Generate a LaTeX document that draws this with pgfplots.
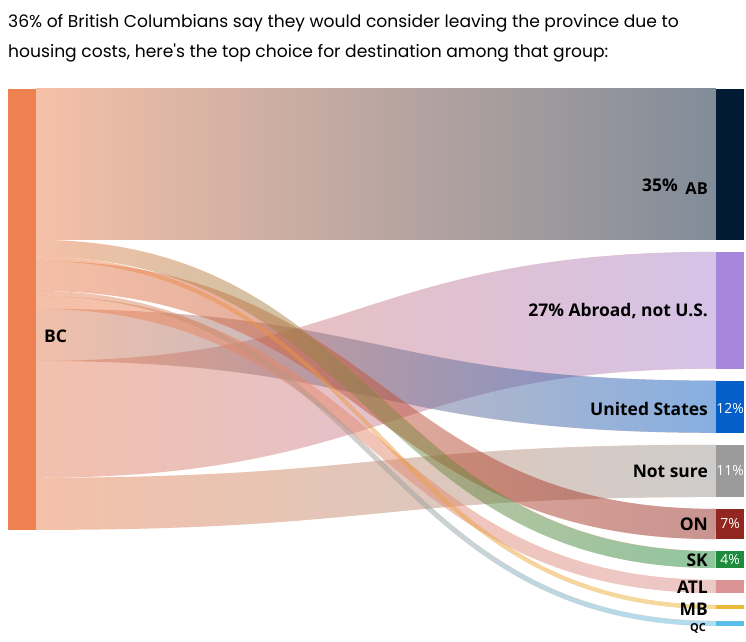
\documentclass[border=0pt]{standalone}
\usepackage{pgfplots}
\pgfplotsset{compat=1.18}
\usetikzlibrary{fadings}
\usepackage{fontspec}
\setmainfont{Open Sans}
\newfontfamily\titlefont{Poppins}
\definecolor{bcor}{RGB}{237,130,80}
\definecolor{cAB}{RGB}{3,26,53}
\definecolor{cAbroad}{RGB}{166,134,219}
\definecolor{cUS}{RGB}{5,95,200}
\definecolor{cNS}{RGB}{155,155,155}
\definecolor{cON}{RGB}{146,38,32}
\definecolor{cSK}{RGB}{30,140,60}
\definecolor{cATL}{RGB}{218,146,146}
\definecolor{cMB}{RGB}{235,185,55}
\definecolor{cQC}{RGB}{90,190,230}
% shares (%) of those considering leaving BC
\def\sc{4.31}
\pgfmathsetmacro\hAB{35*\sc}
\pgfmathsetmacro\hAbroad{27.1*\sc}
\pgfmathsetmacro\hUS{12.1*\sc}
\pgfmathsetmacro\hNS{12.1*\sc}
\pgfmathsetmacro\hON{7*\sc}
\pgfmathsetmacro\hSK{3.9*\sc}
\pgfmathsetmacro\hATL{3*\sc}
\pgfmathsetmacro\hMB{0.95*\sc}
\pgfmathsetmacro\hQC{1.15*\sc}
% right nodes (stacked with gaps)
\def\gap{12}
\def\rAB{89}
\pgfmathsetmacro\rAbroad{\rAB+\hAB+\gap}
\pgfmathsetmacro\rUS{\rAbroad+\hAbroad+\gap}
\pgfmathsetmacro\rNS{\rUS+\hUS+\gap}
\pgfmathsetmacro\rON{\rNS+\hNS+\gap}
\pgfmathsetmacro\rSK{\rON+\hON+\gap}
\pgfmathsetmacro\rATL{\rSK+\hSK+\gap}
\pgfmathsetmacro\rMB{\rATL+\hATL+\gap}
\pgfmathsetmacro\rQC{\rMB+\hMB+\gap}
% left side order
\def\lAB{89}
\pgfmathsetmacro\lSK{\lAB+\hAB}
\pgfmathsetmacro\lMB{\lSK+\hSK}
\pgfmathsetmacro\lON{\lMB+\hMB}
\pgfmathsetmacro\lQC{\lON+\hON}
\pgfmathsetmacro\lATL{\lQC+\hQC}
\pgfmathsetmacro\lUS{\lATL+\hATL}
\pgfmathsetmacro\lAbroad{\lUS+\hUS}
\pgfmathsetmacro\lNS{\lAbroad+\hAbroad}
\pgfmathsetmacro\lEnd{\lNS+\hNS}
% straight band (fill)
\newcommand\flowfill[4]{%
  \begin{scope}[transparency group, opacity=0.5]
  \fill[left color=bcor, right color=#4]
    (axis cs:36,#1) .. controls (axis cs:376,#1) and (axis cs:376,#2) .. (axis cs:716,#2)
    -- (axis cs:716,{#2+#3}) .. controls (axis cs:376,{#2+#3}) and (axis cs:376,{#1+#3}) .. (axis cs:36,{#1+#3}) -- cycle;
  \end{scope}}
% curved band (stroke of constant width, gradient along x)
\newcommand\flow[4]{%
  \begin{scope}[transparency group, opacity=0.5]
  \draw[bcor, line width=#3 bp]
    (axis cs:36,{#1+#3/2}) .. controls (axis cs:376,{#1+#3/2}) and (axis cs:376,{#2+#3/2}) .. (axis cs:716,{#2+#3/2});
  \draw[#4, line width=#3 bp, path fading=west]
    (axis cs:36,{#1+#3/2}) .. controls (axis cs:376,{#1+#3/2}) and (axis cs:376,{#2+#3/2}) .. (axis cs:716,{#2+#3/2});
  \end{scope}}
\newcommand\rnode[3]{%
  \fill[#3] (axis cs:716,#1) rectangle (axis cs:744,{#1+#2});}
\begin{document}
\begin{tikzpicture}
\begin{axis}[width=746bp, height=642bp, scale only axis,
  xmin=0, xmax=746, ymin=0, ymax=642, y dir=reverse, hide axis, clip=false]
\coordinate (bbA) at (axis cs:0,0);
\coordinate (bbB) at (axis cs:746,642);
\flowfill{\lAB}{\rAB}{\hAB}{cAB}
\flow{\lNS}{\rNS}{\hNS}{cNS}
\flow{\lAbroad}{\rAbroad}{\hAbroad}{cAbroad}
\flow{\lUS}{\rUS}{\hUS}{cUS}
\flow{\lATL}{\rATL}{\hATL}{cATL}
\flow{\lQC}{\rQC}{\hQC}{cQC}
\flow{\lON}{\rON}{\hON}{cON}
\flow{\lMB}{\rMB}{\hMB}{cMB}
\flow{\lSK}{\rSK}{\hSK}{cSK}
\fill[bcor] (axis cs:8,89) rectangle (axis cs:36,\lEnd);
\rnode{\rAB}{\hAB}{cAB}
\rnode{\rAbroad}{\hAbroad}{cAbroad}
\rnode{\rUS}{\hUS}{cUS}
\rnode{\rNS}{\hNS}{cNS}
\rnode{\rON}{\hON}{cON}
\rnode{\rSK}{\hSK}{cSK}
\rnode{\rATL}{\hATL}{cATL}
\rnode{\rMB}{\hMB}{cMB}
\rnode{\rQC}{\hQC}{cQC}
% title
\node[anchor=base west, inner sep=0pt, font=\titlefont\fontsize{17.2}{19}\selectfont] at (axis cs:8,28) {36\% of British Columbians say they would consider leaving the province due to};
\node[anchor=base west, inner sep=0pt, font=\titlefont\fontsize{17.2}{19}\selectfont] at (axis cs:8,58) {housing costs, here's the top choice for destination among that group:};
% labels
\tikzset{lab/.style={inner sep=0pt, font=\fontsize{17.5}{19}\bfseries\selectfont}}
\tikzset{pct/.style={inner sep=0pt, text=white, font=\fontsize{14}{16}\selectfont}}
\node[lab, anchor=west] at (axis cs:44,336) {BC};
\node[lab, anchor=east] at (axis cs:678,185) {35\%};
\node[lab, anchor=east, font=\fontsize{16.5}{18}\bfseries\selectfont] at (axis cs:708,189) {AB};
\node[lab, anchor=east] at (axis cs:708,311) {27\% Abroad, not U.S.};
\node[lab, anchor=east] at (axis cs:708,409) {United States};
\node[lab, anchor=east] at (axis cs:708,471) {Not sure};
\node[lab, anchor=east] at (axis cs:708,524) {ON};
\node[lab, anchor=east] at (axis cs:708,560) {SK};
\node[lab, anchor=east] at (axis cs:708,587) {ATL};
\node[lab, anchor=east] at (axis cs:708,609) {MB};
\node[inner sep=0pt, anchor=east, font=\fontsize{11}{12}\bfseries\selectfont] at (axis cs:706,628) {QC};
\node[pct] at (axis cs:730,409) {12\%};
\node[pct] at (axis cs:730,471) {11\%};
\node[pct] at (axis cs:730,524) {7\%};
\node[pct] at (axis cs:730,560) {4\%};
\end{axis}
\pgfresetboundingbox
\useasboundingbox (bbA) rectangle (bbB);
\end{tikzpicture}
\end{document}
